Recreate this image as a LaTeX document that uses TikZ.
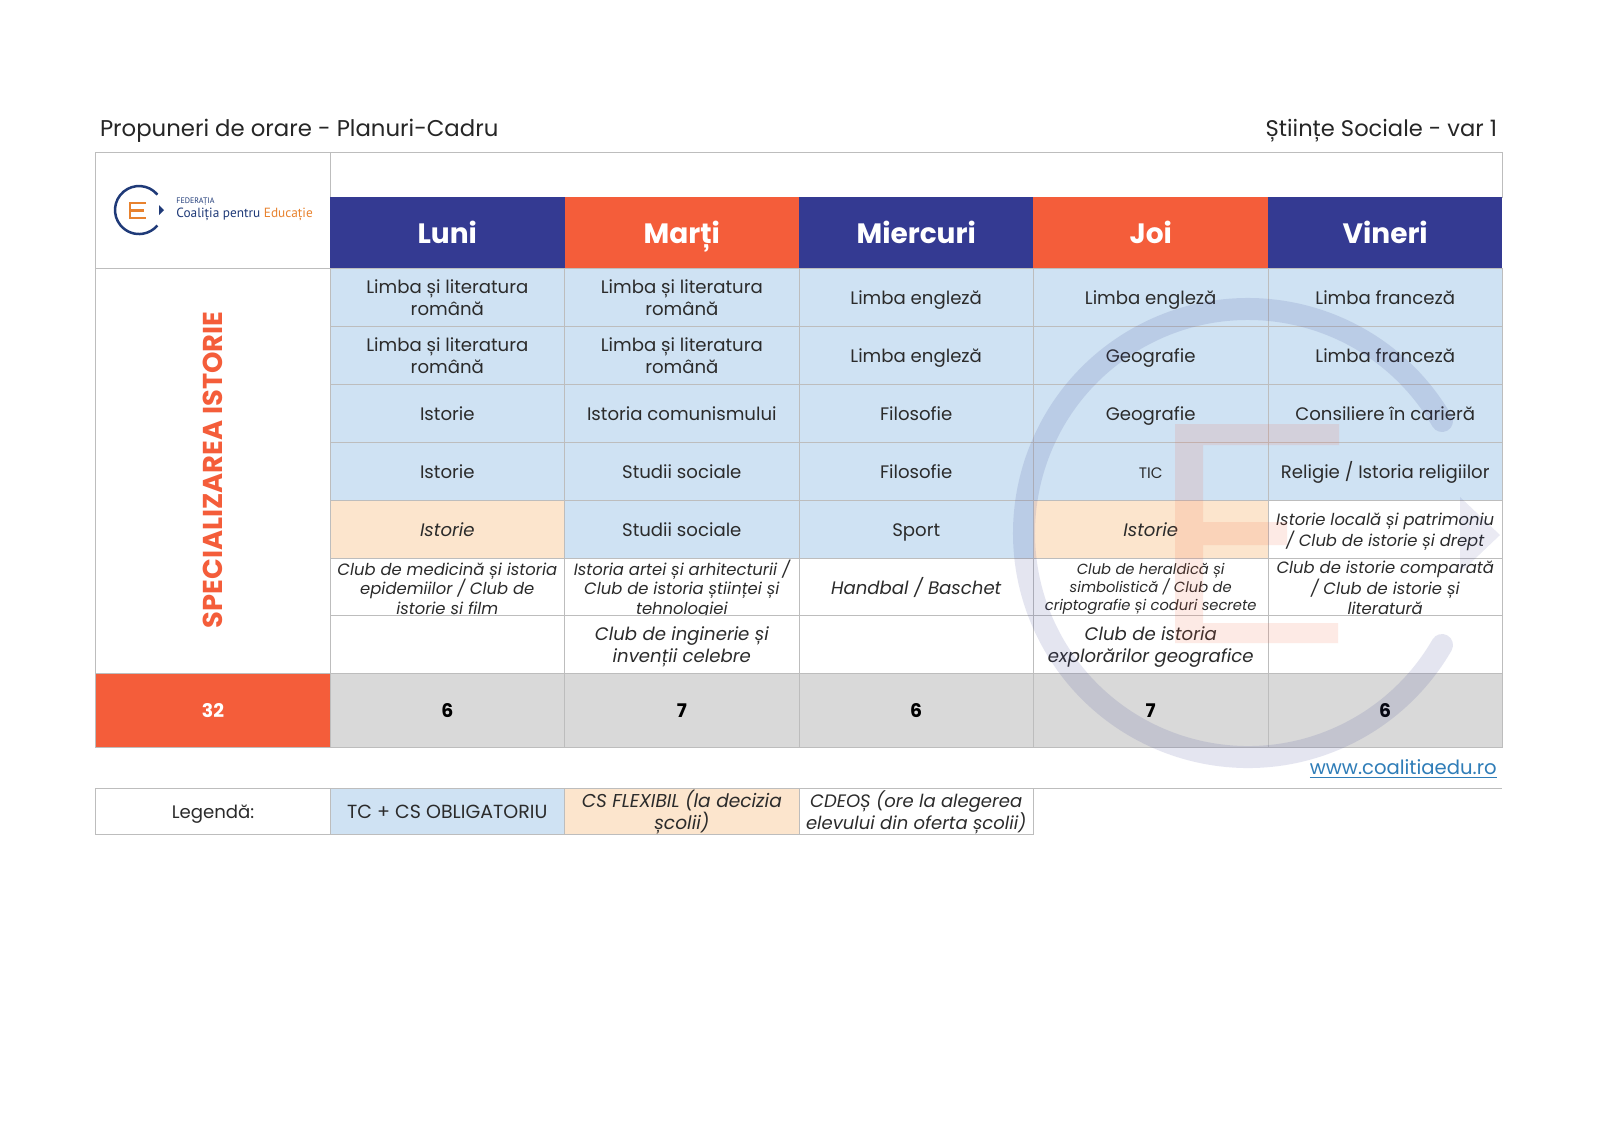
\documentclass[tikz,border=0pt]{standalone}
\usepackage{fontspec}
\setmainfont{Poppins}
\newfontfamily\logofont{PT Sans}
\newcommand{\fstart}{\rule{0pt}{\dimexpr.7\baselineskip+3pt\relax}}
\definecolor{gridc}{HTML}{BDBDBD}
\definecolor{cblue}{HTML}{CFE2F3}
\definecolor{corange}{HTML}{FCE5CD}
\definecolor{cgray}{HTML}{D9D9D9}
\definecolor{hnavy}{HTML}{343A92}
\definecolor{hred}{HTML}{F45D3A}
\definecolor{txt}{HTML}{2B2B2B}
\definecolor{logonavy}{HTML}{1F3A78}
\definecolor{logoorange}{HTML}{E8822E}
\definecolor{linkc}{HTML}{2F7DB8}
\tikzset{
  struts/.style={execute at begin node={\rule{0pt}{\dimexpr.7\baselineskip+#1\relax}},execute at end node=\strut},
  cellbase/.style={draw=gridc,line width=.45pt,inner sep=0pt,outer sep=0pt,align=center,text=txt,minimum width=117.25pt,minimum height=29pt,font=\fontsize{9.06}{11}\selectfont,struts=3pt},
  tcb/.style={cellbase,fill=cblue},
  tco/.style={cellbase,fill=corange,font=\fontsize{9.06}{11}\selectfont\itshape},
  tcw/.style={cellbase,fill=white,font=\fontsize{9.06}{11}\selectfont\itshape},
  tcs/.style={cellbase,fill=white,font=\fontsize{8.2}{9.8}\selectfont\itshape},
  overtext/.style={inner sep=0pt,outer sep=0pt,align=center,text=txt},
  over3/.style={overtext,font=\fontsize{8.2}{9.8}\selectfont\itshape},
  overx/.style={overtext,font=\fontsize{7.35}{8.8}\selectfont\itshape},
  head/.style={inner sep=0pt,outer sep=0pt,align=center,text=white,minimum width=117.25pt,minimum height=35.5pt,font=\fontsize{14}{16}\selectfont\bfseries,struts=5pt},
  tot/.style={cellbase,fill=cgray,minimum height=37pt,text=black,font=\fontsize{9.4}{11}\selectfont\bfseries},
  leg/.style={cellbase,minimum height=23pt},
  framecell/.style={draw=gridc,line width=.45pt,fill=white,inner sep=0pt,outer sep=0pt},
  plain/.style={inner sep=0pt,outer sep=0pt,text=black!85},
  wmb/.style={opacity=.13,line width=11pt,line cap=round,draw=hnavy},
  wmo/.style={opacity=.13,fill=hred,draw=none}
}
\begin{document}
\begin{tikzpicture}[x=.5pt,y=-.5pt]
\useasboundingbox (0,0) rectangle (1600,1131);
\fill[white] (0,0) rectangle (1600,1131);

\node[plain,anchor=west,font=\fontsize{11.4}{14}\selectfont] (title) at (100,131) {Propuneri de orare - Planuri-Cadru};
\node[plain,anchor=east,font=\fontsize{11.3}{14}\selectfont] (subtitle) at (1497,131) {Științe Sociale - var 1};

% frame cells
\node[framecell,minimum width=117.5pt,minimum height=58pt] (logocell) at (213,210) {};
\node[framecell,minimum width=586pt,minimum height=22.5pt] (topblank) at (916,174.5) {};
\node[framecell,minimum width=117.5pt,minimum height=202.5pt] (speccell) at (213,470.5) {};
\node[inner sep=0pt,outer sep=0pt,rotate=90,text=hred,font=\fontsize{13.65}{15}\selectfont\bfseries] (spec) at (213,470) {SPECIALIZAREA ISTORIE};

% logo
\draw[logonavy,line width=1.25pt] (157.4,194.6) arc[start angle=-40,end angle=-320,radius=24];
\fill[logonavy] (159,205) -- (164,210) -- (159,215) -- cycle;
\draw[logoorange,line width=1.2pt] (146,203) -- (130,203) -- (130,218) -- (146,218) (130,210.5) -- (144,210.5);
\node[anchor=west,inner sep=0pt,text=logonavy,font=\logofont\fontsize{4}{5}\selectfont] (logoa) at (176,202) {FEDERAȚIA};
\node[anchor=west,inner sep=0pt,text=logonavy,font=\logofont\fontsize{6.65}{9}\selectfont] (logob) at (176,214) {Coaliția pentru \textcolor{logoorange}{Educație}};

% header
\node[head,fill=hnavy] (h1) at (447.3,232.5) {Luni};
\node[head,fill=hred] (h2) at (681.8,232.5) {Marți};
\node[head,fill=hnavy] (h3) at (916.2,232.5) {Miercuri};
\node[head,fill=hred] (h4) at (1150.7,232.5) {Joi};
\node[head,fill=hnavy] (h5) at (1385.2,232.5) {Vineri};

% row 1
\node[tcb] (a1) at (447.3,297) {\fstart Limba și literatura\\română\strut};
\node[tcb] (a2) at (681.8,297) {\fstart Limba și literatura\\română\strut};
\node[tcb] (a3) at (916.2,297) {Limba engleză};
\node[tcb] (a4) at (1150.7,297) {Limba engleză};
\node[tcb] (a5) at (1385.2,297) {Limba franceză};
% row 2
\node[tcb] (b1) at (447.3,355) {\fstart Limba și literatura\\română\strut};
\node[tcb] (b2) at (681.8,355) {\fstart Limba și literatura\\română\strut};
\node[tcb] (b3) at (916.2,355) {Limba engleză};
\node[tcb] (b4) at (1150.7,355) {Geografie};
\node[tcb] (b5) at (1385.2,355) {Limba franceză};
% row 3
\node[tcb] (c1) at (447.3,413) {Istorie};
\node[tcb] (c2) at (681.8,413) {Istoria comunismului};
\node[tcb] (c3) at (916.2,413) {Filosofie};
\node[tcb] (c4) at (1150.7,413) {Geografie};
\node[tcb] (c5) at (1385.2,413) {Consiliere în carieră};
% row 4
\node[tcb] (d1) at (447.3,471) {Istorie};
\node[tcb] (d2) at (681.8,471) {Studii sociale};
\node[tcb] (d3) at (916.2,471) {Filosofie};
\node[tcb,font=\fontsize{7.6}{11}\selectfont] (d4) at (1150.7,471) {TIC};
\node[tcb] (d5) at (1385.2,471) {Religie / Istoria religiilor};
% row 5
\node[tco] (e1) at (447.3,529) {Istorie};
\node[tcb] (e2) at (681.8,529) {Studii sociale};
\node[tcb] (e3) at (916.2,529) {Sport};
\node[tco] (e4) at (1150.7,529) {Istorie};
\node[tcs] (e5) at (1385.2,529) {\fstart Istorie locală și patrimoniu\\/ Club de istorie și drept\strut};
% row 6: cells, then text that may overflow them
\node[tcs] (f1) at (447.3,587) {};
\node[tcs] (f2) at (681.8,587) {};
\node[tcw] (f3) at (916.2,587) {Handbal / Baschet};
\node[tcs] (f4) at (1150.7,587) {};
\node[tcs] (f5) at (1385.2,587) {};
\node[over3] (f1t) at (447.3,588) {\fstart Club de medicină și istoria\\epidemiilor / Club de\\istorie și film\strut};
\node[over3] (f2t) at (681.8,588) {\fstart Istoria artei și arhitecturii /\\Club de istoria științei și\\tehnologiei\strut};
\node[overx] (f4t) at (1150.7,586) {\fstart Club de heraldică și\\simbolistică / Club de\\criptografie și coduri secrete\strut};
\node[over3] (f5t) at (1385.2,587) {\fstart Club de istorie comparată\\/ Club de istorie și\\literatură\strut};
% row 7
\node[tcw] (g1) at (447.3,644.5) {};
\node[tcw] (g2) at (681.8,644.5) {\fstart Club de inginerie și\\invenții celebre\strut};
\node[tcw] (g3) at (916.2,644.5) {};
\node[tcw] (g4) at (1150.7,644.5) {\fstart Club de istoria\\explorărilor geografice\strut};
\node[tcw] (g5) at (1385.2,644.5) {};
% totals
\node[cellbase,fill=hred,minimum width=117.5pt,minimum height=37pt,text=white,font=\fontsize{9.4}{11}\selectfont\bfseries] (t0) at (213,710) {32};
\node[tot] (t1) at (447.3,710) {6};
\node[tot] (t2) at (681.8,710) {7};
\node[tot] (t3) at (916.2,710) {6};
\node[tot] (t4) at (1150.7,710) {7};
\node[tot] (t5) at (1385.2,710) {6};

% watermark
\draw[wmb] (1442,421) arc[start angle=-30,end angle=-330,radius=224];
\fill[wmo] (1175,424) -- (1339,424) -- (1339,445) -- (1203,445) -- (1203,522) -- (1287,522) -- (1287,545) -- (1203,545) -- (1203,623) -- (1338,623) -- (1338,643) -- (1175,643) -- cycle;
\fill[hnavy,opacity=.1] (1460,497) -- (1500,535) -- (1460,573) -- cycle;

% link
\node[anchor=east,inner sep=0pt,text=linkc,font=\fontsize{9.8}{12}\selectfont] (link) at (1497,769) {\underline{www.coalitiaedu.ro}};

% legend
\node[leg,fill=white,minimum width=117.5pt] (l0) at (213,811) {Legendă:};
\node[leg,fill=cblue,font=\fontsize{9.5}{11}\selectfont] (l1) at (447.3,811) {TC + CS OBLIGATORIU};
\node[leg,fill=corange] (l2) at (681.8,811) {};
\node[leg,fill=white] (l3) at (916.2,811) {};
\node[overtext,font=\fontsize{9.3}{11}\selectfont\itshape] (l2t) at (681.8,811) {\fstart CS FLEXIBIL (la decizia\\școlii)\strut};
\node[overtext,font=\fontsize{9}{11}\selectfont\itshape] (l3t) at (916.2,811) {\fstart CDEOȘ (ore la alegerea\\elevului din oferta școlii)\strut};
\coordinate (legend end) at (1502,788);
\draw[gridc,line width=.35pt] (l3.north east) -- (legend end);
\end{tikzpicture}
\end{document}
